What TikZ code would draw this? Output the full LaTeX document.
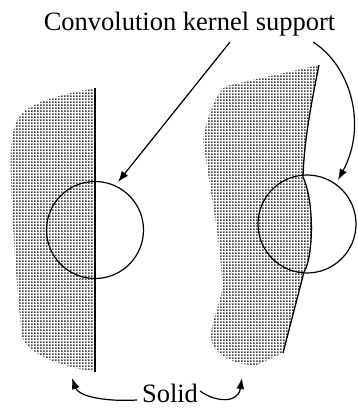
\documentclass[tikz,border=0pt]{standalone}
\usepackage{fontspec}
\setmainfont{Liberation Serif}
\usetikzlibrary{arrows.meta,patterns}
\pgfdeclarepatternformonly{stipple}{\pgfpointorigin}{\pgfqpoint{2.5pt}{2.5pt}}{\pgfqpoint{2.5pt}{2.5pt}}{%
  \pgfpathrectangle{\pgfpointorigin}{\pgfqpoint{1.8pt}{1.8pt}}\pgfusepath{fill}}
\begin{document}
\begin{tikzpicture}[x=1pt,y=-1pt,
  solidfill/.style={pattern=stipple,pattern color=black!75},
  edge/.style={line width=1.3pt},
  ring/.style={draw,circle,line width=1.2pt,inner sep=0pt},
  pointer/.style={line width=1.2pt,-{Latex[length=11pt,width=8pt]}},
  lbl/.style={font=\fontsize{26.5}{30}\selectfont,inner sep=0pt,anchor=base}]
\useasboundingbox (0,0) rectangle (358,408);
% left solid
\path[solidfill] (95,88) .. controls (60,95) and (30,102) .. (20,116)
  .. controls (10,130) and (10,150) .. (11,180)
  .. controls (13,240) and (18,300) .. (22,337)
  .. controls (28,352) and (50,364) .. (95,372) -- cycle;
\draw[edge] (95,88) -- (95,372);
% right solid
\path[solidfill] (319,65) -- (226,86) .. controls (214,95) and (205,125) .. (203,140)
  .. controls (210,190) and (222,250) .. (222,290)
  .. controls (218,310) and (208,330) .. (212,343)
  .. controls (218,358) and (240,366) .. (257,365)
  -- (283,353) -- (304,272)
  .. controls (314,255) and (314,200) .. (303,177)
  .. controls (304,140) and (312,100) .. (319,65) -- cycle;
\draw[edge] (283,353) -- (304,272)
  .. controls (314,255) and (314,200) .. (303,177)
  .. controls (304,140) and (312,100) .. (319,65);
% kernels
\node[ring,minimum size=97pt] (k1) at (95,230) {};
\node[ring,minimum size=98pt] (k2) at (307,224) {};
% labels
\node[lbl] (conv) at (189.5,30) {Convolution kernel support};
\node[lbl] (solid) at (170,402) {Solid};
\coordinate (c1s) at (230,42);
\coordinate (c1e) at (118,182);
\coordinate (c2s) at (313,42);
\coordinate (c2e) at (338,180);
\coordinate (s1s) at (137,400);
\coordinate (s1e) at (72,378);
\coordinate (s2s) at (200,391);
\coordinate (s2e) at (242,378);
\draw[pointer] (c1s) -- (c1e);
\draw[pointer] (c2s) .. controls (350,65) and (368,125) .. (c2e);
\draw[pointer] (s1s) .. controls (100,402) and (78,395) .. (s1e);
\draw[pointer] (s2s) .. controls (215,402) and (238,404) .. (s2e);
\end{tikzpicture}
\end{document}
